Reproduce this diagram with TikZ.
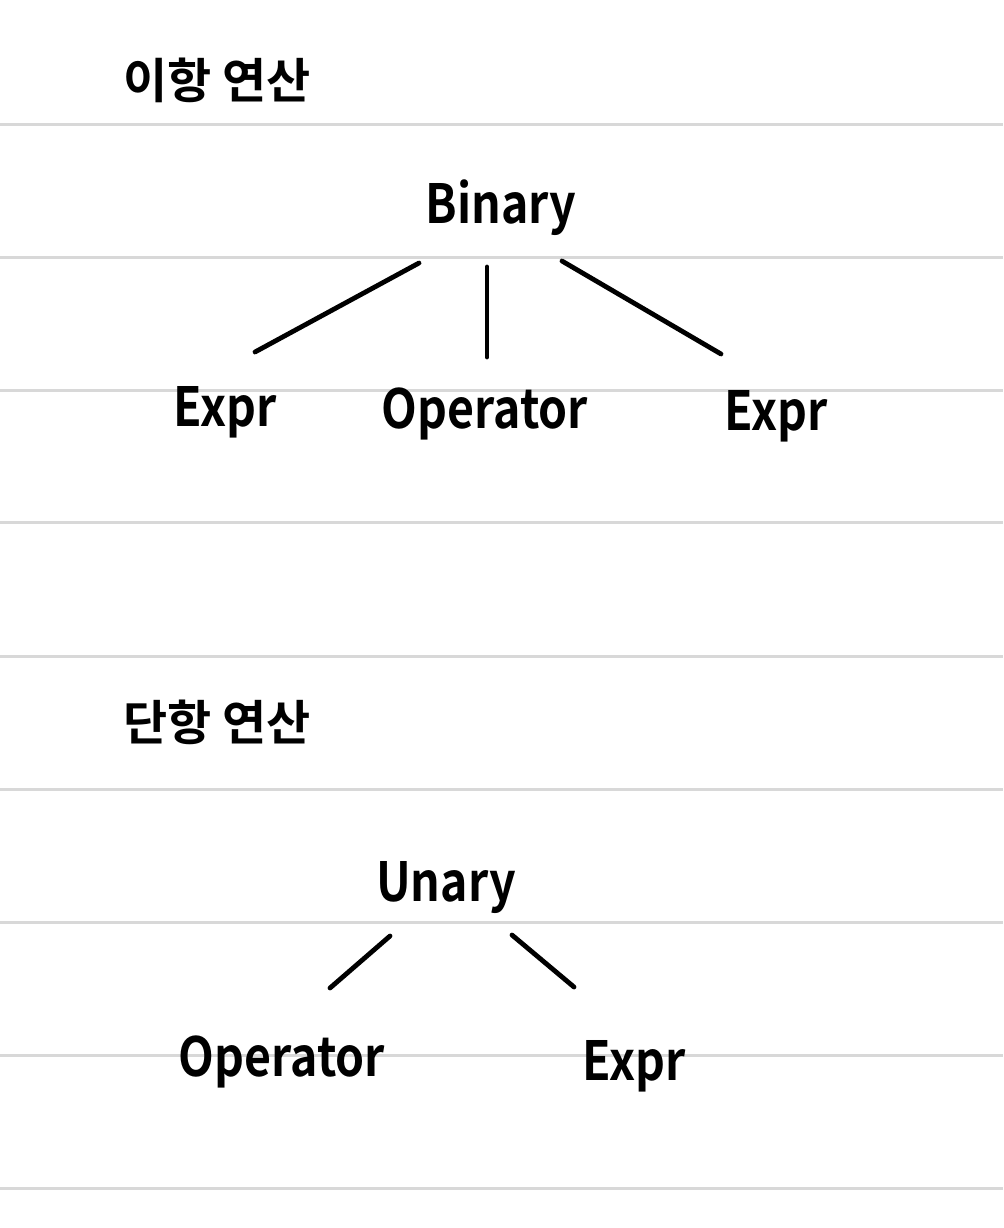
\documentclass[tikz,border=0pt]{standalone}
\usepackage{fontspec}
\setmainfont{Noto Sans CJK KR}[BoldFont={Noto Sans CJK KR Bold}]
\newcommand\narrowtext[1]{\scalebox{0.86}[1]{#1}}
\begin{document}
\begin{tikzpicture}[x=0.5pt,y=-0.5pt,
  rule/.style={draw={rgb,255:red,216;green,216;blue,216},line width=1.5pt},
  edge/.style={draw=black,line width=2.4pt,line cap=round},
  title/.style={font=\fontsize{24pt}{28pt}\selectfont\bfseries,inner sep=0pt},
  word/.style={font=\fontsize{27pt}{31pt}\selectfont\bfseries,inner sep=0pt}]
\fill[white] (0,0) rectangle (1003,1228);
\useasboundingbox (0,0) rectangle (1003,1228);
\foreach \yy in {124,257,390,522,656,789,922,1055,1188}
  \draw[rule] (0,\yy) -- (1003,\yy);
% binary
\node[title] (t1) at (217,80) {이항 연산};
\node[word] (bin) at (501,208) {\narrowtext{Binary}};
\node[word] (e1) at (225,412) {\narrowtext{Expr}};
\node[word] (op1) at (485,414) {\narrowtext{Operator}};
\node[word] (e2) at (776,416) {\narrowtext{Expr}};
\coordinate (b1s) at (419,263); \coordinate (b1e) at (255,352);
\coordinate (b2s) at (487,267); \coordinate (b2e) at (487,357);
\coordinate (b3s) at (562,261); \coordinate (b3e) at (721,354);
\draw[edge] (b1s) -- (b1e);
\draw[edge] (b2s) -- (b2e);
\draw[edge] (b3s) -- (b3e);
% unary
\node[title] (t2) at (217,722) {단항 연산};
\node[word] (un) at (446,888) {\narrowtext{Unary}};
\node[word] (op2) at (282,1062) {\narrowtext{Operator}};
\node[word] (e3) at (634,1066) {\narrowtext{Expr}};
\coordinate (u1s) at (390,936); \coordinate (u1e) at (330,988);
\coordinate (u2s) at (512,935); \coordinate (u2e) at (574,987);
\draw[edge] (u1s) -- (u1e);
\draw[edge] (u2s) -- (u2e);
\end{tikzpicture}
\end{document}
